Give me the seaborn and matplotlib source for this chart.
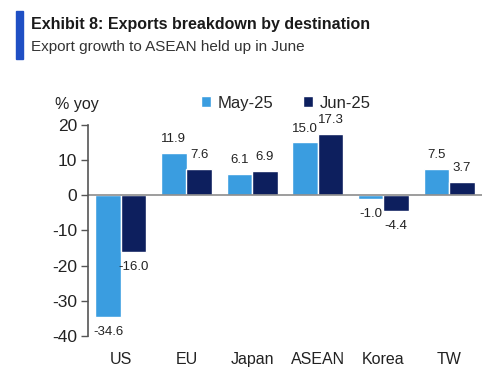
import pandas as pd
import seaborn as sns
import matplotlib.pyplot as plt
from matplotlib.patches import Rectangle

sns.set_style("white")
plt.rcParams['font.family'] = ['Liberation Sans', 'DejaVu Sans']
plt.rcParams['axes.unicode_minus'] = False

regions = ['US', 'EU', 'Japan', 'ASEAN', 'Korea', 'TW']
may25 = [-34.6, 11.9, 6.1, 15.0, -1.0, 7.5]
jun25 = [-16.0, 7.6, 6.9, 17.3, -4.4, 3.7]
series = ['May-25', 'Jun-25']
colors = ['#3a9de0', '#0d1f5e']

df = pd.DataFrame({
    'region': regions * 2,
    'month': [series[0]] * len(regions) + [series[1]] * len(regions),
    'value': may25 + jun25,
})

fig = plt.figure(figsize=(5, 3.76), dpi=100)
ax = fig.add_axes([0.176, 0.106, 0.788, 0.562])

sns.barplot(data=df, x='region', y='value', hue='month', palette=colors,
            width=0.78, saturation=1, ax=ax)

# value labels
for cont in ax.containers:
    for bar in cont:
        h = bar.get_height()
        x = bar.get_x() + bar.get_width() / 2
        off = 10 if h >= 0 else -11
        ax.annotate(f'{h:.1f}', (x, h), xytext=(0, off), textcoords='offset points',
                    ha='center', va='center', fontsize=9.5, color='#222222')

ax.set_ylim(-40, 20)
ax.set_xlim(-0.5, 5.5)
ax.set_yticks(range(-40, 21, 10))
ax.axhline(0, color='#8c8c8c', lw=1.2)
for s in ['top', 'right', 'bottom']:
    ax.spines[s].set_visible(False)
ax.spines['left'].set_color('#555555')
ax.spines['left'].set_linewidth(1.2)
ax.tick_params(axis='y', left=True, length=5, width=1, color='#555555',
               labelsize=12.5, labelcolor='#222222', pad=3)
ax.tick_params(axis='x', bottom=False, labelsize=11.5, labelcolor='#222222', pad=8)
ax.set_xlabel('')
ax.set_ylabel('')

leg = ax.legend(loc='upper left', bbox_to_anchor=(0.27, 1.17), ncol=2, frameon=False,
                fontsize=12, handlelength=0.6, handleheight=0.6, handletextpad=0.4,
                columnspacing=1.8, borderaxespad=0)

fig.text(0.11, 0.71, '% yoy', fontsize=11.5, color='#222222')

# header
fig.patches.append(Rectangle((0.032, 0.842), 0.014, 0.128, transform=fig.transFigure,
                             color='#1f4fc4', zorder=3))
fig.text(0.062, 0.935, 'Exhibit 8: Exports breakdown by destination', fontsize=11.5,
         fontweight='bold', color='#1a1a1a', va='center')
fig.text(0.062, 0.875, 'Export growth to ASEAN held up in June', fontsize=11,
         color='#333333', va='center')

fig.savefig('out.png', dpi=100)
